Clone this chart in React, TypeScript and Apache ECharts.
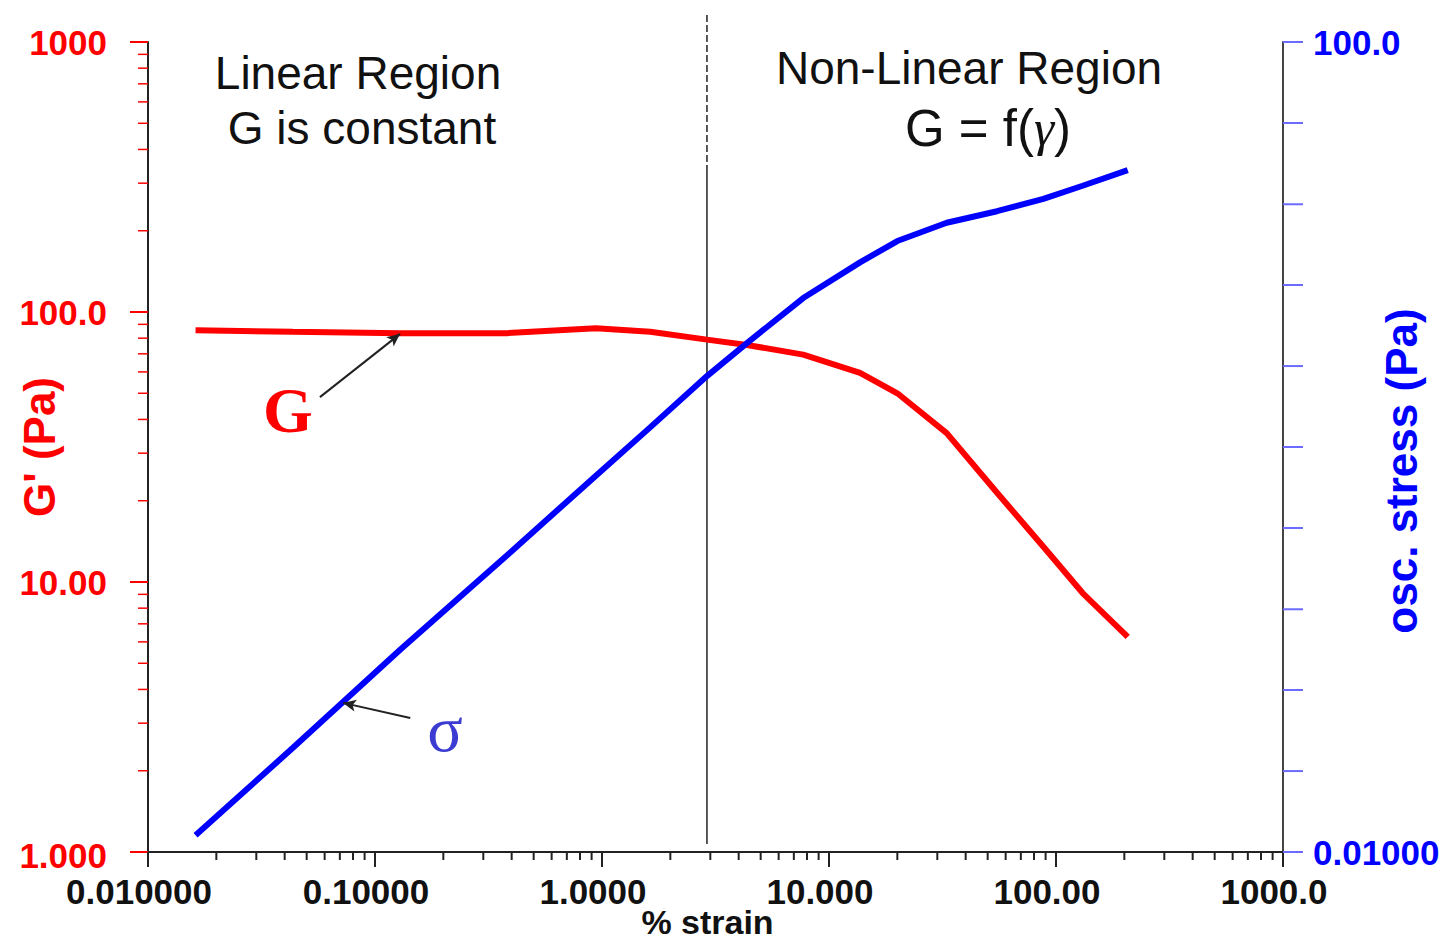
import React, { useEffect, useRef } from "react";
import * as echarts from "echarts";

// ---- data ----
const strain = [0.0162, 0.0435, 0.129, 0.381, 0.94, 1.63, 2.9, 4.35, 7.7, 13.7, 20, 33, 55, 88, 131, 207];
const gPrime = [85.5, 84.5, 83.5, 83.5, 87, 84.5, 79, 75.5, 69.5, 59.5, 50, 35.6, 21.4, 13.5, 9.1, 6.26];
const oscStress = [0.0121, 0.0327, 0.0997, 0.291, 0.722, 1.25, 2.24, 3.26, 5.44, 8.16, 10.4, 12.8, 14.6, 16.8, 19.5, 23.3];

const xTickValues = [0.01, 0.1, 1, 10, 100, 1000];
const xTickLabels = ["0.010000", "0.10000", "1.0000", "10.000", "100.00", "1000.0"];
const leftTickValues = [1, 10, 100, 1000];
const leftTickLabels = ["1.000", "10.00", "100.0", "1000"];
const rightTickValues = [0.01, 100];
const rightTickLabels = ["0.01000", "100.0"];
// right axis marks every 0.4 decade
const rightTickMarks = [0.01, 0.0251, 0.0631, 0.158, 0.398, 1, 2.51, 6.31, 15.8, 39.8, 100];

const minorMultipliers = [2, 3, 4, 5, 6, 7, 8, 9];
const xDecades = [0.01, 0.1, 1, 10, 100];
const leftDecades = [1, 10, 100];

// divider between linear / non-linear regions
const dividerStrain = 2.9;
const dividerSpan = [1.07, 336, 1260]; // bottom, end of dashed part, top (G' units)

// arrows: [from, to]
const gArrow = [[0.0572, 48.4], [0.129, 83]];
const sigmaArrow = [[0.143, 0.0459], [0.0723, 0.0545]];

const RED = "#ff0000";
const BLUE = "#0000ff";
const SANS = "'Liberation Sans', Arial, sans-serif";
const SERIF = "'Liberation Serif', 'Times New Roman', serif";

function pick(v: number, vals: number[], labels: string[]) {
  for (let i = 0; i < vals.length; i++) {
    if (Math.abs(Math.log10(v) - Math.log10(vals[i])) < 0.02) return labels[i];
  }
  return "";
}

export default function App() {
  const ref = useRef<HTMLDivElement>(null);

  useEffect(() => {
    if (!ref.current) return;
    const chart = echarts.init(ref.current, undefined, { renderer: "svg" });

    const xMinor: number[][] = [];
    xDecades.forEach((d) => minorMultipliers.forEach((m) => xMinor.push([d * m, 1])));
    const yMinor: number[][] = [];
    leftDecades.forEach((d) => minorMultipliers.forEach((m) => yMinor.push([0.01, d * m])));
    const rMarks = rightTickMarks.map((v) => [1000, v]);

    const labelStyle = { fontFamily: SANS, fontWeight: "bold" as const, fontSize: 35 };

    const option: any = {
      animation: false,
      backgroundColor: "#ffffff",
      grid: { left: 148, right: 156, top: 42, bottom: 88, containLabel: false, outerBoundsMode: "none" },
      xAxis: {
        type: "log",
        logBase: 10,
        min: 0.01,
        max: 1000,
        name: "% strain",
        nameLocation: "middle",
        nameGap: 53,
        nameMoveOverlap: false,
        nameTextStyle: { fontFamily: SANS, fontWeight: "bold", fontSize: 34, color: "#111", padding: [0, 16, 0, 0] },
        axisLine: { show: true, lineStyle: { color: "#222", width: 2 } },
        axisTick: { show: true, inside: false, length: 15, lineStyle: { color: "#222", width: 2 } },
        axisLabel: {
          ...labelStyle,
          color: "#111",
          margin: 26,
          lineHeight: 27,
          padding: [0, 18, 0, 0],
          formatter: (v: number) => pick(v, xTickValues, xTickLabels),
        },
        splitLine: { show: false },
      },
      yAxis: [
        {
          type: "log",
          logBase: 10,
          min: 1,
          max: 1000,
          position: "left",
          name: "G' (Pa)",
          nameLocation: "middle",
          nameRotate: 90,
          nameGap: 87,
          nameMoveOverlap: false,
          nameTextStyle: { fontFamily: SANS, fontWeight: "bold", fontSize: 44, color: RED },
          axisLine: { show: true, lineStyle: { color: "#222", width: 2 } },
          axisTick: { show: true, inside: false, length: 18, lineStyle: { color: RED, width: 2 } },
          axisLabel: {
            ...labelStyle,
            color: RED,
            margin: 41,
            formatter: (v: number) => {
              const s = pick(v, leftTickValues, leftTickLabels);
              return Math.abs(v - 1) < 1e-6 ? "{low|" + s + "}" : s;
            },
            rich: { low: { ...labelStyle, color: RED, lineHeight: 26, padding: [6, 0, 0, 0] } },
          },
          splitLine: { show: false },
        },
        {
          type: "log",
          logBase: 10,
          min: 0.01,
          max: 100,
          position: "right",
          name: "osc. stress (Pa)",
          nameLocation: "middle",
          nameRotate: 90,
          nameGap: 96,
          nameMoveOverlap: false,
          nameTextStyle: { fontFamily: SANS, fontWeight: "bold", fontSize: 44, color: BLUE, padding: [0, 48, 0, 0] },
          axisLine: { show: true, lineStyle: { color: "#444", width: 2 } },
          axisTick: { show: false },
          axisLabel: {
            ...labelStyle,
            color: BLUE,
            margin: 30,
            formatter: (v: number) => pick(v, rightTickValues, rightTickLabels),
          },
          splitLine: { show: false },
        },
      ],
      series: [
        {
          name: "G'",
          type: "line",
          yAxisIndex: 0,
          data: strain.map((s, i) => [s, gPrime[i]]),
          showSymbol: false,
          lineStyle: { color: RED, width: 6 },
          itemStyle: { color: RED },
          z: 3,
          markLine: {
            silent: true,
            symbol: ["none", "arrow"],
            symbolSize: [9, 13],
            label: { show: false },
            lineStyle: { color: "#222", width: 2, type: "solid" },
            data: [[{ coord: gArrow[0] }, { coord: gArrow[1] }]],
          },
        },
        {
          name: "osc. stress",
          type: "line",
          yAxisIndex: 1,
          data: strain.map((s, i) => [s, oscStress[i]]),
          showSymbol: false,
          lineStyle: { color: BLUE, width: 6 },
          itemStyle: { color: BLUE },
          z: 4,
          markLine: {
            silent: true,
            symbol: ["none", "arrow"],
            symbolSize: [9, 13],
            label: { show: false },
            lineStyle: { color: "#222", width: 2, type: "solid" },
            data: [[{ coord: sigmaArrow[0] }, { coord: sigmaArrow[1] }]],
          },
        },
        {
          type: "custom",
          name: "divider",
          yAxisIndex: 0,
          clip: false,
          silent: true,
          z: 2,
          data: [[dividerStrain, dividerSpan[0]]],
          renderItem: (params: any, api: any) => {
            const x = api.value(0);
            const b = api.coord([x, dividerSpan[0]]);
            const m = api.coord([x, dividerSpan[1]]);
            const t = api.coord([x, dividerSpan[2]]);
            return {
              type: "group",
              children: [
                { type: "line", shape: { x1: t[0], y1: t[1], x2: m[0], y2: m[1] }, style: { stroke: "#222", lineWidth: 1.5, lineDash: [7, 3] } },
                { type: "line", shape: { x1: m[0], y1: m[1], x2: b[0], y2: b[1] }, style: { stroke: "#222", lineWidth: 1.5 } },
              ],
            };
          },
        },
        {
          type: "custom",
          name: "xMinor",
          yAxisIndex: 0,
          clip: false,
          silent: true,
          data: xMinor,
          renderItem: (params: any, api: any) => {
            const p = api.coord([api.value(0), api.value(1)]);
            return { type: "line", shape: { x1: p[0], y1: p[1], x2: p[0], y2: p[1] + 8 }, style: { stroke: "#222", lineWidth: 2 } };
          },
        },
        {
          type: "custom",
          name: "yMinor",
          yAxisIndex: 0,
          clip: false,
          silent: true,
          data: yMinor,
          renderItem: (params: any, api: any) => {
            const p = api.coord([api.value(0), api.value(1)]);
            return { type: "line", shape: { x1: p[0] - 10, y1: p[1], x2: p[0], y2: p[1] }, style: { stroke: RED, lineWidth: 1.5 } };
          },
        },
        {
          type: "custom",
          name: "rightTicks",
          yAxisIndex: 1,
          clip: false,
          silent: true,
          data: rMarks,
          renderItem: (params: any, api: any) => {
            const p = api.coord([api.value(0), api.value(1)]);
            return { type: "line", shape: { x1: p[0], y1: p[1], x2: p[0] + 20, y2: p[1] }, style: { stroke: "#6b6bff", lineWidth: 2 } };
          },
        },
      ],
      graphic: [
        { type: "text", x: 358, y: 73, style: { text: "Linear Region", font: `46px ${SANS}`, fill: "#111", align: "center", verticalAlign: "middle" } },
        { type: "text", x: 362, y: 128, style: { text: "G is constant", font: `46px ${SANS}`, fill: "#111", align: "center", verticalAlign: "middle" } },
        { type: "text", x: 969, y: 68, style: { text: "Non-Linear Region", font: `46px ${SANS}`, fill: "#111", align: "center", verticalAlign: "middle" } },
        {
          type: "text",
          x: 988,
          y: 128,
          style: {
            text: "{a|G = f(}{b|γ}{a|)}",
            align: "center",
            verticalAlign: "middle",
            rich: {
              a: { font: `51px ${SANS}`, fill: "#111" },
              b: { font: `italic 51px ${SERIF}`, fill: "#111" },
            },
          },
        },
        { type: "text", x: 288, y: 410, style: { text: "G", font: `bold 64px ${SERIF}`, fill: RED, align: "center", verticalAlign: "middle" } },
        { type: "text", x: 445, y: 728, style: { text: "σ", font: `66px ${SERIF}`, fill: "#3c3cd2", align: "center", verticalAlign: "middle" } },
      ],
    };

    chart.setOption(option);
    return () => chart.dispose();
  }, []);

  return <div ref={ref} style={{ position: "absolute", left: 0, top: 0, width: 1439, height: 940 }} />;
}
